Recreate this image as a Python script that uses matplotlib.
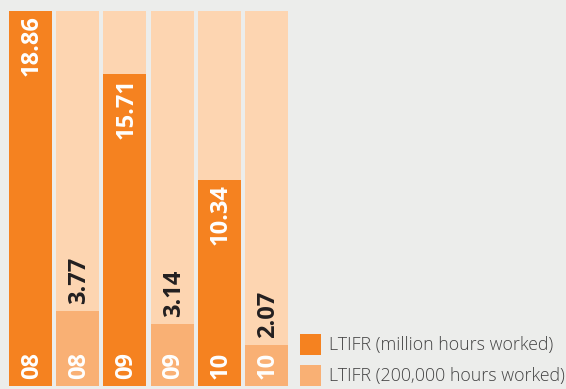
import matplotlib
import matplotlib.pyplot as plt
from matplotlib.patches import Rectangle

matplotlib.use("Agg")
plt.rcParams['font.family'] = ['Open Sans', 'DejaVu Sans']

years = ['08', '09', '10']
ltifr_million = [18.86, 15.71, 10.34]
ltifr_200k = [3.77, 3.14, 2.07]
legend_labels = ['LTIFR (million hours worked)', 'LTIFR (200,000 hours worked)']

BG = '#ecedeb'
TRACK = '#fdd5b1'
DARK = '#f58220'
LIGHT = '#f9b074'

# interleave the two series: 08, 08, 09, 09, 10, 10
values, colors, labels = [], [], []
for y, a, b in zip(years, ltifr_million, ltifr_200k):
    values += [a, b]
    colors += [DARK, LIGHT]
    labels += [y, y]
xs = list(range(len(values)))
ymax = max(values)

fig = plt.figure(figsize=(5.66, 3.89), dpi=100)
fig.patch.set_facecolor(BG)
ax = fig.add_axes([9 / 566, 3 / 389, 279 / 566, 375 / 389])
ax.set_facecolor(BG)

w = 0.91
ax.bar(xs, [ymax] * len(xs), width=w, color=TRACK, linewidth=0)
ax.bar(xs, values, width=w, color=colors, linewidth=0)

for x, v, c, lab in zip(xs, values, colors, labels):
    if c == DARK:
        ax.annotate(f'{v:.2f}', (x, v), xytext=(1.5, -4), textcoords='offset pixels',
                    rotation=90, ha='center', va='top', color='white',
                    fontsize=17, fontweight='bold')
    else:
        ax.annotate(f'{v:.2f}', (x, v), xytext=(1.5, 7), textcoords='offset pixels',
                    rotation=90, ha='center', va='bottom', color='#231f20',
                    fontsize=17, fontweight='bold')
    ax.annotate(lab, (x, 0), xytext=(1.5, 7), textcoords='offset pixels',
                rotation=90, ha='center', va='bottom', color='white',
                fontsize=17, fontweight='bold')

ax.set_xlim(-w / 2, len(xs) - 1 + w / 2)
ax.set_ylim(0, ymax)
ax.axis('off')

# legend
for i, (lab, c) in enumerate(zip(legend_labels, [DARK, LIGHT])):
    top = 334 + i * 31
    fig.add_artist(Rectangle((300 / 566, 1 - (top + 21) / 389), 21 / 566, 21 / 389,
                             transform=fig.transFigure, color=c, linewidth=0))
    fig.text(329 / 566, 1 - (top + 11) / 389, lab, ha='left', va='center',
             fontsize=12.8, color='#444444', fontweight='light')

fig.savefig('out.png', dpi=100, facecolor=BG)
